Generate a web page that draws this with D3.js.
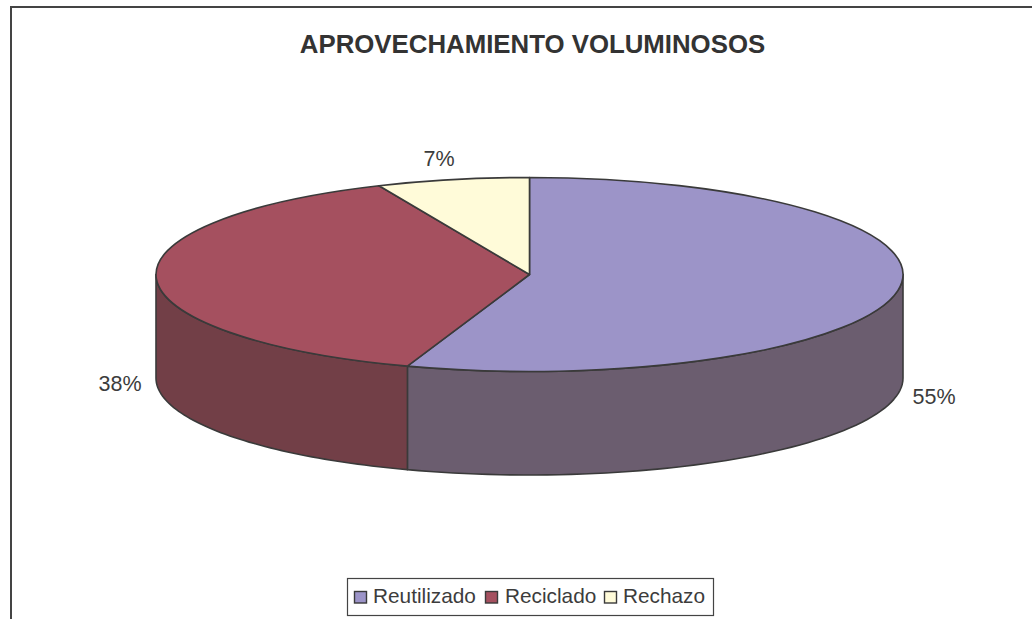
<!DOCTYPE html>
<html><head><meta charset="utf-8"><script src="https://cdn.jsdelivr.net/npm/d3@7"></script>
<style>html,body{margin:0;padding:0;background:#fff}svg{display:block}text{font-family:"Liberation Sans",Arial,sans-serif;fill:#3c3c3c}</style></head>
<body><svg id="c" width="1032" height="619"></svg>
<script>
const titleText = "APROVECHAMIENTO VOLUMINOSOS";
const categories = ["Reutilizado","Reciclado","Rechazo"];
const values = [55.3,38.1,6.6];
const topColors = ["#9c94c8","#a5505f","#fffbd9"];
const sideColors = ["#6b5d6f","#723f47","#8c8a70"];
const labelAt = [[934,397],[120,384],[439,159]];

const W=1032,H=619,cx=529.5,cy=274.5,rx=373.5,ry=97,depth=103.5;
const svg=d3.select("#c");
const ink="#3a3a3a";
svg.append("path").attr("d",d3.line()([[11,619],[11,7],[1032,7]])).attr("fill","none").attr("stroke","#444").attr("stroke-width",2);
svg.append("text").attr("x",532.5).attr("y",53).attr("text-anchor","middle").attr("font-size",25.8).attr("font-weight","bold").style("fill","#333").text(titleText);

const arcs=d3.pie().sort(null).value(d=>d)(values);
const px=a=>cx+rx*Math.sin(a), py=a=>cy-ry*Math.cos(a);
function wall(a0,a1){
  const s=Math.max(a0,Math.PI/2), e=Math.min(a1,Math.PI*1.5);
  if(e<=s) return null;
  const pts=d3.range(0,61).map(i=>s+(e-s)*i/60);
  const upper=pts.map(a=>[px(a),py(a)]);
  const lower=pts.slice().reverse().map(a=>[px(a),py(a)+depth]);
  return d3.line()(upper.concat(lower))+"Z";
}
arcs.forEach((d,i)=>{
  const p=wall(d.startAngle,d.endAngle);
  if(p) svg.append("path").attr("d",p).attr("fill",sideColors[i]).attr("stroke",ink).attr("stroke-width",1.6).attr("stroke-linejoin","round");
});
const arcGen=d3.arc().innerRadius(0).outerRadius(rx);
const g=svg.append("g").attr("transform",`translate(${cx},${cy}) scale(1,${ry/rx})`);
g.selectAll("path").data(arcs).join("path").attr("d",arcGen)
 .attr("fill",(d,i)=>topColors[i]).attr("stroke",ink).attr("stroke-width",1.6)
 .attr("vector-effect","non-scaling-stroke").attr("stroke-linejoin","round");

const pct=d3.format(".0f");
svg.selectAll("text.lab").data(values).join("text").attr("class","lab")
 .attr("x",(d,i)=>labelAt[i][0]).attr("y",(d,i)=>labelAt[i][1]+7).attr("text-anchor","middle")
 .attr("font-size",21.5).text(d=>pct(d)+"%");

// legend
svg.append("rect").attr("x",347.5).attr("y",578.5).attr("width",366).attr("height",37).attr("fill","#fff").attr("stroke","#444").attr("stroke-width",1.2);
const legX=[354.5,485.5,604.5], legTx=[373,505,623];
categories.forEach((c,i)=>{
  svg.append("rect").attr("x",legX[i]).attr("y",591.5).attr("width",12).attr("height",11.5).attr("fill",topColors[i]).attr("stroke",ink).attr("stroke-width",1.4);
  svg.append("text").attr("x",legTx[i]).attr("y",603).attr("font-size",20.8).text(c);
});
</script></body></html>
